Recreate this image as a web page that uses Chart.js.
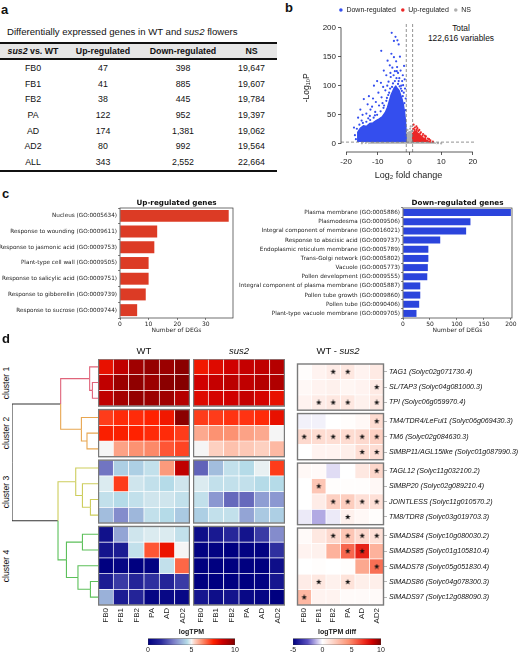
<!DOCTYPE html>
<html lang="en">
<head>
<meta charset="UTF-8">
<title>sus2 flower DEGs</title>
<script src="https://cdn.jsdelivr.net/npm/chart.js"></script>
<style>
  body { margin:0; width:520px; height:652px; overflow:hidden; background:#fff; position:relative;
         font-family:"Liberation Sans", Arial, sans-serif; color:#111; }
  .box { position:absolute; }
  .txt { position:absolute; white-space:nowrap; line-height:1; }
  #degTable { position:absolute; left:0; top:42px; width:277px; border-collapse:separate; border-spacing:0;
              table-layout:fixed; font-size:8.8px; }
  #degTable td, #degTable th { padding:0; text-align:center; vertical-align:middle; height:15.7px; }
  #degTable th { background:#e6e6e6; border-top:2px solid #111; border-bottom:2px solid #111; height:14px; font-weight:bold; }
  #degTable tr:last-child td { border-bottom:2px solid #111; }
</style>
</head>
<body>
<table id="degTable"></table>
<script>
// ---- panel a: DEG table ----
const tableStages = ['FB0', 'FB1', 'FB2', 'PA', 'AD', 'AD2', 'ALL'];
const tableUp = ['47', '41', '38', '122', '174', '80', '343'];
const tableDown = ['398', '885', '445', '952', '1,381', '992', '2,552'];
const tableNS = ['19,647', '19,607', '19,784', '19,397', '19,062', '19,564', '22,664'];

// ---- panel b: volcano (log2 fold change, -log10 P) ----
const downCloud = [[-16.3,3],[-16.3,20],[-15.5,27],[-14.5,31],[-13.5,30],[-12.5,35],[-11.5,36],[-10.5,40],[-9.5,43],
  [-8.5,47],[-7.6,54],[-6.9,63],[-6.3,74],[-5.8,84],[-5.3,90],[-4.8,96],[-4.3,99],[-3.8,95],[-3.3,92],[-2.8,84],
  [-2.3,76],[-1.9,66],[-1.5,52],[-1.25,38],[-1.05,22],[-1.05,3]];
const upCloud = [[1.05,3],[1.05,18],[1.5,21],[2,22],[2.5,19],[3.1,16],[3.8,12],[4.6,9],[5.4,6],[6.2,4],[6.8,3]];
const nsCloud = [[-13,0],[-12.5,2.5],[-1,3],[-1,16],[-0.5,20],[0.3,22],[0.9,17],[1,3],[8,2.5],[8.5,0]];
const downPoints = [[-5.6,191],[-4.4,184],[-3.8,178],[-4.9,177],[-3.4,171],[-8.9,160],[-5.7,155],[-4.9,149],
  [-4.2,142],[-6.9,143],[-3.0,150],[-5.4,131],[-1.7,134],[-2.8,126],[-8.1,126],[-6.2,135],[-4.6,125],[-3.6,122],
  [-7.3,118],[-5.9,115],[-2.1,118],[-1.5,111],[-10.2,108],[-9.0,105],[-6.6,107],[-3.2,113],[-11.2,100],[-8.3,98],
  [-7.6,92],[-1.4,95],[-2.6,100],[-9.8,88],[-12.8,82],[-11.5,78],[-8.8,80],[-10.6,72],[-14.4,77],[-13.2,68],
  [-12.3,59],[-15.5,59],[-11.8,64],[-9.6,66],[-8.5,70],[-14.8,50],[-13.6,52],[-16.2,45],[-17.5,28],[-17.2,15],
  [-16.9,8],[-12.5,48],[-10.8,55],[-1.2,78],[-1.8,88],[-2.3,108],[-6.0,122],[-7.0,100],[-4.0,125],[-5.0,118],[-3.9,132],
  [-5.2,104],[-4.6,108],[-3.6,103],[-3.1,99],[-2.7,95],[-6.1,95],[-6.7,84],[-7.3,74],[-8.2,62],[-9.1,56],[-10.2,50],
  [-11.3,45],[-12.4,41],[-13.6,38],[-14.7,36],[-15.8,33],[-2.1,82],[-1.6,70],[-1.3,58],[-5.5,98],[-4.1,113],[-2.4,91],
  [-16.6,26],[-15.1,40],[-13.0,44],[-10.9,49],[-8.0,66],[-7.1,79],[-6.4,88],[-3.4,108],[-2.0,101]];
const upPoints = [[1.3,33],[1.7,28],[2.5,27],[3.1,24],[3.6,20],[4.3,17],[5.2,13],[5.8,9],[6.6,6],[7.4,4],
  [2.2,30],[1.2,26],[4.8,14],[6.2,8],[2.8,22],[3.4,18],[4.1,14],[5.0,10],[1.6,24],[2.3,24]];
const nsPoints = [[-0.6,24],[0.2,26],[0.7,22],[-0.8,19],[-13.8,1.5],[-15,1],[9,1.2],[10,0.8],[0.4,30]];
const fcCutoff = 1;
const pCutoff = 3;
const volcanoXTicks = [-20, -10, 0, 10, 20];
const volcanoYTicks = [0, 50, 100, 150, 200];

// ---- panel c: GO enrichment ----
const upTerms = ['Nucleus (GO:0005634)', 'Response to wounding (GO:0009611)', 'Response to jasmonic acid (GO:0009753)',
  'Plant-type cell wall (GO:0009505)', 'Response to salicylic acid (GO:0009751)', 'Response to gibberellin (GO:0009739)',
  'Response to sucrose (GO:0009744)'];
const upCounts = [38, 13, 12, 10, 10, 9, 6];
const upTicks = [0, 10, 20, 30];
const downTerms = ['Plasma membrane (GO:0005886)', 'Plasmodesma (GO:0009506)', 'Integral component of membrane (GO:0016021)',
  'Response to abscisic acid (GO:0009737)', 'Endoplasmic reticulum membrane (GO:0005789)', 'Trans-Golgi network (GO:0005802)',
  'Vacuole (GO:0005773)', 'Pollen development (GO:0009555)', 'Integral component of plasma membrane (GO:0005887)',
  'Pollen tube growth (GO:0009860)', 'Pollen tube (GO:0090406)', 'Plant-type vacuole membrane (GO:0009705)'];
const downCounts = [200, 125, 117, 69, 47, 47, 46, 45, 32, 32, 30, 25];
const downTicks = [0, 50, 100, 150, 200];

// ---- panel d: MADS-box heatmaps ----
const stages = ['FB0', 'FB1', 'FB2', 'PA', 'AD', 'AD2'];
const geneNames = ['TAG1 (Solyc02g071730.4)', 'SL/TAP3 (Solyc04g081000.3)', 'TPI (Solyc06g059970.4)',
  'TM4/TDR4/LeFul1 (Solyc06g069430.3)', 'TM6 (Solyc02g084630.3)', 'SlMBP11/AGL15like (Solyc01g087990.3)',
  'TAGL12 (Solyc11g032100.2)', 'SlMBP20 (Solyc02g089210.4)', 'JOINTLESS (Solyc11g010570.2)', 'TM8/TDR8 (Solyc03g019703.3)',
  'SlMADS84 (Solyc10g080030.2)', 'SlMADS85 (Solyc01g105810.4)', 'SlMADS78 (Solyc05g051830.4)',
  'SlMADS86 (Solyc04g078300.3)', 'SlMADS97 (Solyc12g088090.3)'];
const clusterNames = ['cluster 1', 'cluster 2', 'cluster 3', 'cluster 4'];
const clusterSizes = [3, 3, 4, 5];
const wtLogTPM = [
  [8.0, 8.8, 9.4, 9.6, 9.5, 9.8], [8.8, 9.5, 9.7, 9.5, 9.8, 9.9], [8.8, 9.3, 9.6, 9.5, 9.4, 9.0],
  [7.2, 7.4, 7.4, 7.5, 7.8, 9.8], [7.6, 7.6, 7.5, 7.4, 7.4, 7.2], [5.0, 6.0, 6.2, 6.3, 6.9, 7.1],
  [2.8, 4.3, 4.3, 4.6, 6.1, 8.8], [4.8, 7.2, 4.7, 4.6, 4.5, 4.7], [4.6, 4.5, 4.6, 4.7, 4.7, 4.6], [4.0, 3.2, 3.9, 4.6, 4.5, 4.2],
  [0.6, 3.6, 4.7, 4.8, 4.8, 4.6], [0.7, 1.0, 4.6, 6.9, 7.9, 5.0], [0.0, 0.2, 0.0, 0.1, 4.6, 6.7],
  [1.0, 1.8, 1.3, 1.6, 1.3, 1.8], [3.8, 1.0, 1.3, 0.2, 0.3, 0.3]];
const sus2LogTPM = [
  [7.8, 8.2, 8.5, 8.7, 8.8, 9.0], [8.5, 8.7, 8.9, 8.8, 9.0, 9.1], [8.2, 8.4, 8.5, 8.7, 8.4, 8.0],
  [7.2, 7.2, 7.3, 7.3, 7.4, 8.0], [5.9, 6.2, 6.2, 6.0, 5.9, 5.0], [5.0, 5.4, 5.6, 5.5, 5.4, 5.7],
  [2.5, 4.0, 4.6, 4.5, 4.9, 7.2], [4.8, 4.6, 4.6, 4.6, 4.5, 4.5], [4.6, 3.4, 2.6, 2.6, 3.5, 3.4], [4.3, 4.6, 4.6, 3.6, 4.2, 4.3],
  [0.5, 0.9, 1.4, 0.7, 1.8, 3.2], [0.1, 0.1, 0.0, 0.1, 0.1, 1.6], [0.0, 0.0, 0.0, 0.0, 0.0, 0.5],
  [0.0, 0.0, 0.0, 0.0, 0.1, 0.8], [0.8, 0.5, 0.7, 0.3, 0.2, 0.0]];
const diffLogTPM = [
  [0.1, 0.5, 0.8, 1.0, 0.5, 0.9], [0.3, 0.5, 0.6, 0.4, 0.5, 0.9], [0.5, 0.8, 1.0, 1.0, 0.6, 1.0],
  [-0.2, -0.2, 0.0, 0.1, 0.3, 1.5], [1.6, 1.5, 1.4, 1.5, 1.6, 2.0], [0.0, 0.5, 0.5, 0.7, 1.4, 1.4],
  [0.3, 0.2, -0.5, 0.0, 1.0, 1.7], [0.0, 2.4, 0.1, 0.1, 0.1, 0.3], [0.0, 0.8, 2.0, 2.1, 1.3, 1.3], [-0.3, -1.2, -0.3, 0.6, 0.3, 0.1],
  [0.2, 1.0, 1.6, 2.4, 1.6, 1.3], [0.5, 0.6, 3.2, 5.6, 7.4, 3.2], [0.0, 0.1, 0.0, 0.1, 3.6, 5.4],
  [0.8, 1.0, 0.6, 1.2, 0.7, 0.7], [3.0, 0.5, 0.5, 0.2, 0.2, 0.2]];
const diffSignif = [
  [0,0,1,1,0,0], [0,0,0,0,0,1], [0,1,1,1,0,1],
  [0,0,0,0,0,1], [1,1,1,1,1,1], [0,0,0,0,1,1],
  [0,0,0,0,0,1], [0,1,0,0,0,0], [0,0,1,1,1,1], [0,0,0,1,0,0],
  [0,0,1,1,1,1], [0,0,0,1,1,0], [0,0,0,0,0,1], [0,1,0,1,0,0], [1,0,0,0,0,0]];
// hclust-style merges: negative = leaf row (1-based), positive = earlier merge step
const dendroMerges = [[-2,-3], [-1,1], [-5,-6], [-4,3], [2,4], [-9,-10], [-8,6], [-7,7],
  [-14,-15], [-11,-12], [-13,9], [10,11], [8,12], [5,13]];
const dendroHeights = [0.65, 0.97, 1.28, 1.93, 4.34, 0.88, 1.81, 2.59, 0.88, 1.81, 2.33, 3.67, 4.65, 10];
const tpmTicks = [0, 5, 10];
const diffTicks = [-5, 0, 5, 10];

// colour ramps
const tpmPalette = [[0,'#000080'],[1.5,'#2a2a9c'],[3,'#7c80c8'],[4.5,'#b5dbe8'],[5,'#f5f5f5'],[5.4,'#fdd0c0'],
  [6.2,'#fc9272'],[7.5,'#ff2200'],[8.5,'#d00000'],[10,'#800000']];
const diffPalette = [[-5,'#000080'],[-2.5,'#5a50c0'],[-1,'#c0b8e8'],[0,'#ffffff'],[2,'#fdd0c2'],[4.5,'#fc9272'],
  [7,'#f03020'],[8.5,'#d00000'],[10,'#7a0000']];
const clusterColors = ['#e0647a', '#e8a650', '#cdcd5c', '#5cc05a'];

Chart.defaults.font.family = '"Liberation Sans", Arial, sans-serif';
Chart.defaults.color = '#222';
Chart.defaults.animation = false;
Chart.defaults.events = [];
Chart.defaults.maintainAspectRatio = false;
Chart.defaults.plugins.legend.display = false;
Chart.defaults.plugins.tooltip.enabled = false;

function mkCanvas(left, top, w, h) {
  const d = document.createElement('div');
  d.className = 'box';
  Object.assign(d.style, { left: left + 'px', top: top + 'px', width: w + 'px', height: h + 'px' });
  const c = document.createElement('canvas');
  d.appendChild(c);
  document.body.appendChild(d);
  return c;
}

function text(html, x, y, size, opts = {}) {
  const el = document.createElement('div');
  el.className = 'txt';
  el.innerHTML = html;
  el.style.left = x + 'px';
  el.style.top = y + 'px';
  el.style.fontSize = size + 'px';
  if (opts.bold) el.style.fontWeight = 'bold';
  const tx = opts.left ? '0' : '-50%';
  el.style.transform = `translate(${tx}, -50%)` + (opts.rotate ? ` rotate(${opts.rotate}deg)` : '');
  document.body.appendChild(el);
}

function hexRgb(h) {
  return [1, 3, 5].map(i => parseInt(h.slice(i, i + 2), 16));
}
function rampColor(stops, v) {
  if (v <= stops[0][0]) return stops[0][1];
  for (let i = 1; i < stops.length; i++) {
    if (v <= stops[i][0]) {
      const t = (v - stops[i - 1][0]) / (stops[i][0] - stops[i - 1][0]);
      const a = hexRgb(stops[i - 1][1]), b = hexRgb(stops[i][1]);
      const c = a.map((x, k) => Math.round(x + (b[k] - x) * t));
      return `rgb(${c[0]},${c[1]},${c[2]})`;
    }
  }
  return stops[stops.length - 1][1];
}

// ---------- panel a ----------
text('a', 1, 9, 13, { left: true, bold: true });
text('Differentially expressed genes in WT and <i>sus2</i> flowers', 7, 32, 9.6, { left: true });
let rowsHtml = '<colgroup><col style="width:66px"><col style="width:74px"><col style="width:86px"><col style="width:51px"></colgroup>';
rowsHtml += '<tr><th><i>sus2</i> vs. WT</th><th>Up-regulated</th><th>Down-regulated</th><th>NS</th></tr>';
tableStages.forEach((s, i) => {
  rowsHtml += `<tr><td>${s}</td><td>${tableUp[i]}</td><td>${tableDown[i]}</td><td>${tableNS[i]}</td></tr>`;
});
document.getElementById('degTable').innerHTML = rowsHtml;

// ---------- panel b ----------
text('b', 285, 7, 13, { left: true, bold: true });
text('Total', 461, 28, 8.4);
text('122,616 variables', 461, 37.5, 8.4);

const BLUE = 'rgb(52,78,238)', RED = 'rgb(236,38,38)', GREY = 'rgb(175,175,175)';
const xy = arr => arr.map(([x, y]) => ({ x, y }));
const volcanoAxes = {
  id: 'volcanoAxes',
  afterDraw(chart) {
    const { ctx, chartArea, scales: { x, y } } = chart;
    ctx.save();
    ctx.strokeStyle = '#333';
    ctx.lineWidth = 0.8;
    ctx.beginPath();
    ctx.moveTo(x.getPixelForValue(volcanoXTicks[0]), chartArea.bottom);
    ctx.lineTo(x.getPixelForValue(volcanoXTicks[volcanoXTicks.length - 1]), chartArea.bottom);
    ctx.moveTo(chartArea.left, y.getPixelForValue(volcanoYTicks[0]));
    ctx.lineTo(chartArea.left, y.getPixelForValue(volcanoYTicks[volcanoYTicks.length - 1]));
    ctx.stroke();
    ctx.restore();
  }
};
const vxMin = -21.6, vxMax = 21, vyMin = -14, vyMax = 207;
const dashed = { showLine: true, borderColor: '#777', borderWidth: 0.8, borderDash: [3, 2], pointRadius: 0, label: '' };
new Chart(mkCanvas(290, 0, 230, 181), {
  type: 'scatter',
  data: {
    datasets: [
      { ...dashed, data: [{ x: -fcCutoff, y: vyMin }, { x: -fcCutoff, y: vyMax }] },
      { ...dashed, data: [{ x: fcCutoff, y: vyMin }, { x: fcCutoff, y: vyMax }] },
      { ...dashed, data: [{ x: vxMin, y: pCutoff }, { x: vxMax, y: pCutoff }] },
      { label: 'Down-regulated', data: xy(downPoints), backgroundColor: BLUE, borderWidth: 0, pointRadius: 1.1 },
      { label: 'Up-regulated', data: xy(upPoints), backgroundColor: RED, borderWidth: 0, pointRadius: 1.1 },
      { label: 'NS', data: xy(nsPoints), backgroundColor: GREY, borderWidth: 0, pointRadius: 1.1 },
      { label: '', data: xy(downCloud), showLine: true, fill: { value: pCutoff }, backgroundColor: BLUE, borderColor: BLUE, borderWidth: 1.5, pointRadius: 0 },
      { label: '', data: xy(upCloud), showLine: true, fill: { value: pCutoff }, backgroundColor: RED, borderColor: RED, borderWidth: 1.5, pointRadius: 0 },
      { label: '', data: xy(nsCloud), showLine: true, fill: 'origin', backgroundColor: GREY, borderColor: GREY, borderWidth: 1, pointRadius: 0 }
    ]
  },
  options: {
    layout: { padding: { top: 1.5, right: 44, left: 0, bottom: 0 } },
    plugins: {
      legend: {
        display: true, position: 'top', align: 'end',
        labels: { usePointStyle: true, pointStyle: 'circle', boxWidth: 4, boxHeight: 2.5, padding: 5,
                  font: { size: 7 }, filter: item => item.text !== '' }
      }
    },
    scales: {
      x: {
        type: 'linear', min: vxMin, max: vxMax,
        afterBuildTicks: s => { s.ticks = volcanoXTicks.map(v => ({ value: v })); },
        grid: { drawOnChartArea: false, drawTicks: true, tickLength: 3, color: '#333', lineWidth: 0.8 },
        border: { display: false },
        ticks: { font: { size: 8 }, padding: 2 },
        title: { display: true, text: 'Log₂ fold change', font: { size: 9 }, padding: 0 },
        afterFit: s => { s.height = 29; s.paddingLeft = 0; s.paddingRight = 0; }
      },
      y: {
        min: vyMin, max: vyMax,
        afterBuildTicks: s => { s.ticks = volcanoYTicks.map(v => ({ value: v })); },
        grid: { drawOnChartArea: false, drawTicks: true, tickLength: 3, color: '#333', lineWidth: 0.8 },
        border: { display: false },
        ticks: { font: { size: 8 }, padding: 2 },
        title: { display: true, text: '-Log₁₀P', font: { size: 8.5 }, padding: { top: 12, bottom: 0 } },
        afterFit: s => { s.width = 51; s.paddingTop = 0; s.paddingBottom = 0; }
      }
    }
  },
  plugins: [volcanoAxes]
});

// ---------- panel c ----------
text('c', 2, 193, 13, { left: true, bold: true });
const frame = {
  id: 'frame',
  afterDraw(chart) {
    const { ctx, chartArea: a } = chart;
    ctx.save();
    ctx.strokeStyle = '#333';
    ctx.lineWidth = 0.7;
    ctx.strokeRect(a.left, a.top, a.right - a.left, a.bottom - a.top);
    ctx.restore();
  }
};
function goChart(canvas, terms, counts, color, xMax, ticks, title, yWidth, padRight) {
  const mpl = 'DejaVu Sans';
  const tickGrid = { display: true, drawOnChartArea: false, drawTicks: true, tickLength: 2, color: '#333', lineWidth: 0.6 };
  new Chart(canvas, {
    type: 'bar',
    data: { labels: terms, datasets: [{ data: counts, backgroundColor: color, barPercentage: 0.76, categoryPercentage: 1 }] },
    options: {
      indexAxis: 'y',
      layout: { padding: { left: 0, right: padRight, top: 0, bottom: 0 } },
      scales: {
        y: {
          grid: tickGrid, border: { display: false },
          ticks: { font: { family: mpl, size: 5.7 }, padding: 1, autoSkip: false, color: '#222' },
          afterFit: s => { s.width = yWidth; s.paddingTop = 0; s.paddingBottom = 0; }
        },
        x: {
          min: 0, max: xMax,
          afterBuildTicks: s => { s.ticks = ticks.map(v => ({ value: v })); },
          grid: tickGrid, border: { display: false },
          ticks: { font: { family: mpl, size: 6 }, padding: 1, color: '#222' },
          title: { display: true, text: 'Number of DEGs', font: { family: mpl, size: 6 }, padding: 0, color: '#222' },
          afterFit: s => { s.height = 16; s.paddingLeft = 0; s.paddingRight = 0; }
        },
        top: {
          type: 'linear', position: 'top',
          ticks: { display: false }, grid: { display: false, drawTicks: false }, border: { display: false },
          title: { display: true, text: title, font: { family: mpl, size: 7.2, weight: 'bold' }, padding: 0, color: '#111' },
          afterFit: s => { s.height = 9; }
        }
      }
    },
    plugins: [frame]
  });
}
goChart(mkCanvas(0, 199, 240, 135), upTerms, upCounts, '#dc3b25', 39.5, upTicks, 'Up-regulated genes', 120, 7);
goChart(mkCanvas(220, 199, 300, 135), downTerms, downCounts, '#2b44dc', 202, downTicks, 'Down-regulated genes', 183, 8);

// ---------- panel d ----------
text('d', 2, 338, 13, { left: true, bold: true });
text('WT', 144, 351, 9.5);
text('<i>sus2</i>', 239, 351, 9.5);
text('WT - <i>sus2</i>', 338, 351, 9.5);

const clusterGap = 0.22;
const rowTops = [];
const clusterSpans = [];
const rowCluster = [];
let yCursor = 0;
clusterSizes.forEach((n, c) => {
  const start = yCursor;
  for (let i = 0; i < n; i++) { rowTops.push(yCursor); rowCluster.push(c); yCursor += 1; }
  clusterSpans.push([start, yCursor]);
  yCursor += clusterGap;
});
const yTotal = yCursor - clusterGap;
const rowCenters = rowTops.map(t => t + 0.5);

const clusterPx = clusterSpans.map(([a, b]) => 359 + (a + b) / 2 / yTotal * 246);
clusterNames.forEach((name, c) => text(name, 6, clusterPx[c], 8.6, { rotate: -90 }));

function starMarker(size) {
  const c = document.createElement('canvas');
  c.width = c.height = size;
  const g = c.getContext('2d');
  g.fillStyle = '#111';
  g.beginPath();
  for (let i = 0; i < 10; i++) {
    const r = i % 2 ? size * 0.2 : size * 0.5;
    const a = -Math.PI / 2 + i * Math.PI / 5;
    g.lineTo(size / 2 + r * Math.cos(a), size / 2 + r * Math.sin(a));
  }
  g.closePath();
  g.fill();
  return c;
}
const starImg = starMarker(6);

const clusterBoxes = {
  id: 'clusterBoxes',
  afterDatasetsDraw(chart) {
    const { ctx, chartArea: a, scales: { y } } = chart;
    ctx.save();
    ctx.strokeStyle = '#7a7a7a';
    ctx.lineWidth = 1.4;
    clusterSpans.forEach(([s, e]) => {
      const y0 = y.getPixelForValue(s), y1 = y.getPixelForValue(e);
      ctx.strokeRect(a.left + 0.5, y0, a.right - a.left - 1, y1 - y0);
    });
    ctx.restore();
  }
};

function heatmap(canvas, matrix, palette, signif, withGenes) {
  const datasets = matrix.map((row, r) => ({
    type: 'bar',
    data: row.map(() => [rowTops[r], rowTops[r] + 1]),
    backgroundColor: row.map(v => rampColor(palette, v)),
    borderColor: 'rgba(255,255,255,0.85)',
    borderWidth: 0.7,
    borderSkipped: false,
    grouped: false,
    barPercentage: 1,
    categoryPercentage: 1
  }));
  if (signif) {
    const pts = [];
    signif.forEach((row, r) => row.forEach((s, c) => { if (s) pts.push({ x: stages[c], y: rowCenters[r] }); }));
    datasets.unshift({ type: 'line', data: pts, showLine: false, pointStyle: starImg, pointRadius: 3 });
  }
  new Chart(canvas, {
    type: 'bar',
    data: { labels: stages, datasets },
    options: {
      layout: { padding: 0 },
      scales: {
        x: {
          grid: { display: false, drawTicks: false }, border: { display: false },
          ticks: { maxRotation: 90, minRotation: 90, padding: 3, font: { size: 8 }, color: '#222' },
          afterFit: s => { s.height = 27; s.paddingLeft = 0; s.paddingRight = 0; }
        },
        y: {
          min: 0, max: yTotal, reverse: true, display: withGenes, position: 'right',
          afterBuildTicks: s => { s.ticks = rowCenters.map(v => ({ value: v })); },
          ticks: { callback: (v, i) => geneNames[i], font: { size: 7.1, style: 'italic' }, padding: 2, autoSkip: false, color: '#111' },
          grid: { display: true, drawOnChartArea: false, drawTicks: true, tickLength: 3, color: '#888', lineWidth: 0.6 },
          border: { display: false },
          afterFit: s => { s.width = withGenes ? 136 : 0; s.paddingTop = 0; s.paddingBottom = 0; }
        }
      }
    },
    plugins: [clusterBoxes]
  });
}
heatmap(mkCanvas(98, 359, 92, 273), wtLogTPM, tpmPalette, null, false);
heatmap(mkCanvas(193, 359, 92, 273), sus2LogTPM, tpmPalette, null, false);
heatmap(mkCanvas(292, 359, 228, 273), diffLogTPM, diffPalette, diffSignif, true);

// dendrogram from the merge table
const nodeY = [], nodeH = [], nodeCluster = [];
function childInfo(k) {
  if (k < 0) return { y: rowCenters[-k - 1], h: 0, cl: rowCluster[-k - 1] };
  return { y: nodeY[k - 1], h: nodeH[k - 1], cl: nodeCluster[k - 1] };
}
const dendroSets = [];
dendroMerges.forEach(([l, r], i) => {
  const a = childInfo(l), b = childInfo(r), h = dendroHeights[i];
  const mid = (a.y + b.y) / 2;
  nodeY.push(mid);
  nodeH.push(h);
  nodeCluster.push(a.cl === b.cl ? a.cl : -1);
  [a, b].forEach(ch => {
    dendroSets.push({
      data: [{ x: ch.h, y: ch.y }, { x: h, y: ch.y }, { x: h, y: mid }],
      showLine: true, pointRadius: 0, borderWidth: 1.1, clip: false,
      borderColor: ch.cl >= 0 ? clusterColors[ch.cl] : '#333'
    });
  });
});
new Chart(mkCanvas(12, 359, 86, 246), {
  type: 'scatter',
  data: { datasets: dendroSets },
  options: {
    layout: { padding: 0 },
    scales: {
      x: { min: 0, max: 10, reverse: true, display: false },
      y: { min: 0, max: yTotal, reverse: true, display: false }
    }
  }
});

// colour bars
function colorbar(canvas, palette, ticks, title, padL, padR) {
  const lo = ticks[0], hi = ticks[ticks.length - 1];
  new Chart(canvas, {
    type: 'bar',
    data: {
      labels: [''],
      datasets: [{
        data: [[lo, hi]],
        backgroundColor: ctx => {
          const ch = ctx.chart;
          if (!ch.chartArea) return null;
          const xs = ch.scales.x;
          const g = ch.ctx.createLinearGradient(xs.getPixelForValue(lo), 0, xs.getPixelForValue(hi), 0);
          palette.forEach(([v, c]) => g.addColorStop((v - lo) / (hi - lo), c));
          return g;
        },
        borderColor: '#333', borderWidth: 0.6, borderSkipped: false,
        barPercentage: 1, categoryPercentage: 1
      }]
    },
    options: {
      indexAxis: 'y',
      layout: { padding: { left: padL, right: padR, top: 0, bottom: 0 } },
      plugins: { title: { display: true, text: title, font: { size: 7, weight: 'bold' }, padding: { top: 1, bottom: 2 }, color: '#222' } },
      scales: {
        x: {
          min: lo, max: hi,
          afterBuildTicks: s => { s.ticks = ticks.map(v => ({ value: v })); },
          grid: { display: false, drawTicks: false }, border: { display: false },
          ticks: { font: { size: 7 }, padding: 1, color: '#222' },
          afterFit: s => { s.height = 10; s.paddingLeft = 0; s.paddingRight = 0; }
        },
        y: { display: false }
      }
    }
  });
}
colorbar(mkCanvas(130, 627, 125, 28), tpmPalette, tpmTicks, 'logTPM', 18, 20);
colorbar(mkCanvas(270, 627, 130, 28), diffPalette, diffTicks, 'logTPM diff', 23, 19);
</script>
</body>
</html>
